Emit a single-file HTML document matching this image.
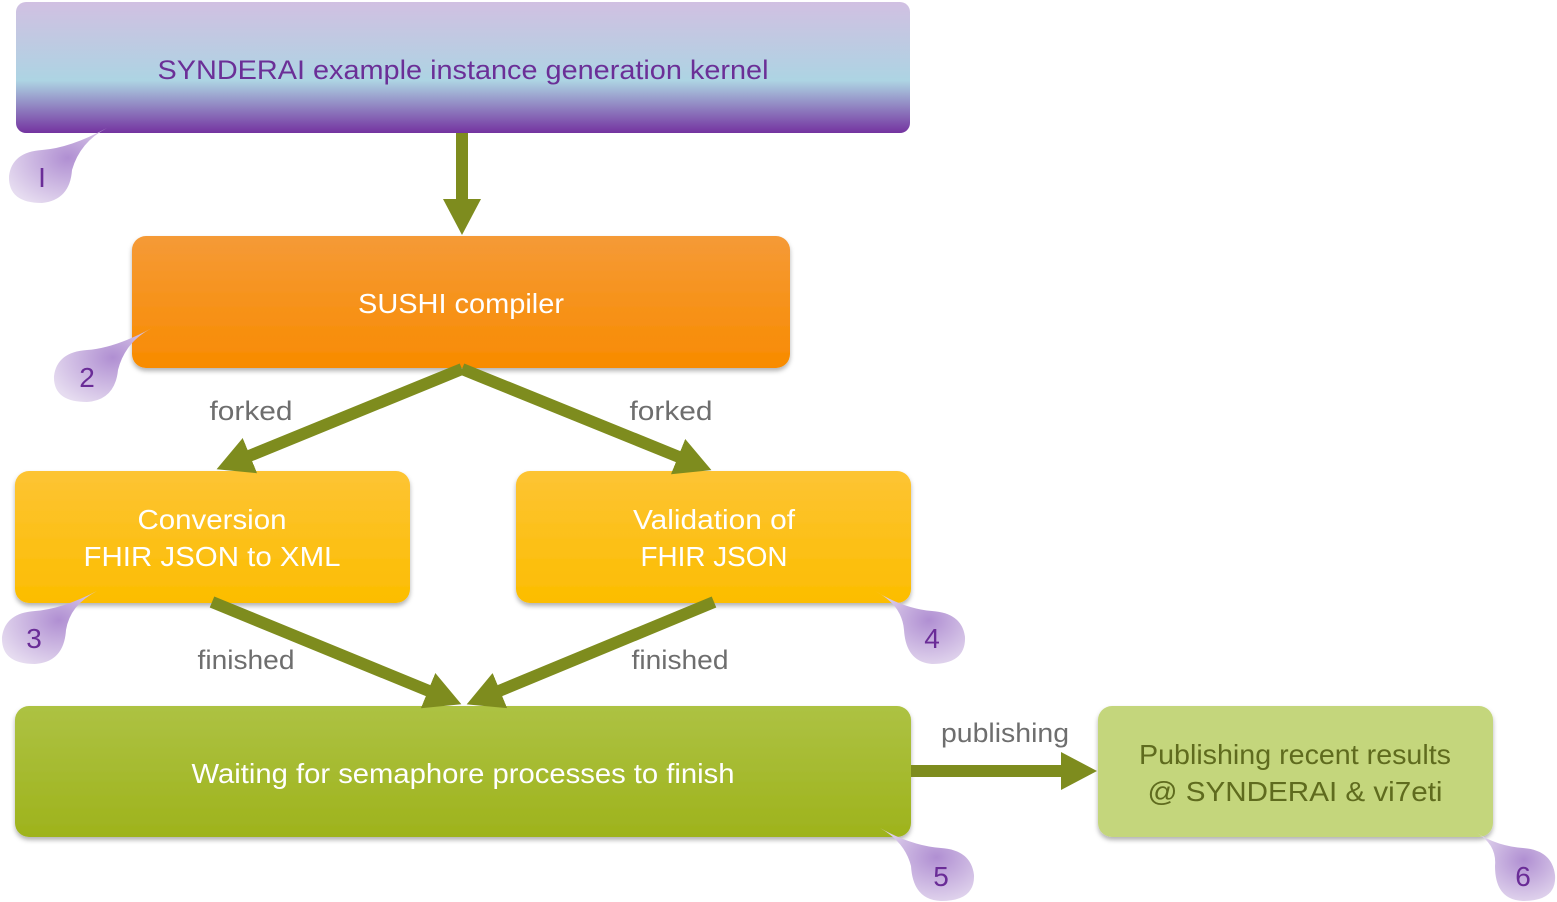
<!DOCTYPE html>
<html><head><meta charset="utf-8"><style>
html,body{margin:0;padding:0;background:#fff;}
svg{display:block;}
text{font-family:"Liberation Sans",sans-serif;}
</style></head><body>
<svg width="1557" height="902" viewBox="0 0 1557 902" xmlns="http://www.w3.org/2000/svg">
<defs>
<linearGradient id="g1" x1="0" y1="0" x2="0" y2="1">
<stop offset="0" stop-color="#d1c0e2"/><stop offset="0.6" stop-color="#add4e3"/><stop offset="1" stop-color="#7433a0"/>
</linearGradient>
<linearGradient id="g2" x1="0" y1="0" x2="0" y2="1"><stop offset="0" stop-color="#f59a37"/><stop offset="1" stop-color="#f88b00"/></linearGradient>
<linearGradient id="g3" x1="0" y1="0" x2="0" y2="1"><stop offset="0" stop-color="#fdc434"/><stop offset="1" stop-color="#fcbd00"/></linearGradient>
<linearGradient id="g5" x1="0" y1="0" x2="0" y2="1"><stop offset="0" stop-color="#adc243"/><stop offset="1" stop-color="#9eb31c"/></linearGradient>
<radialGradient id="gc" cx="0.6" cy="0.4" r="0.7"><stop offset="0" stop-color="#b08fd2"/><stop offset="1" stop-color="#e6dcf0"/></radialGradient>
<filter id="sh" x="-5%" y="-5%" width="110%" height="115%"><feDropShadow dx="0" dy="3" stdDeviation="2.5" flood-color="#000" flood-opacity="0.3"/></filter>
<marker id="ah" markerUnits="userSpaceOnUse" markerWidth="40" markerHeight="40" refX="1" refY="19" orient="auto"><path d="M0,0 L36,19 L0,38 Z" fill="#7e8c1e"/></marker>
</defs>

<rect x="16" y="2" width="894" height="131" rx="10" fill="url(#g1)"/>
<text x="463" y="79" font-size="27" fill="#6b2f97" text-anchor="middle" textLength="611" lengthAdjust="spacingAndGlyphs">SYNDERAI example instance generation kernel</text>

<rect x="132" y="236" width="658" height="132" rx="14" fill="url(#g2)" filter="url(#sh)"/>
<text x="461" y="313" font-size="28" fill="#fff" text-anchor="middle" textLength="206" lengthAdjust="spacingAndGlyphs">SUSHI compiler</text>

<rect x="15" y="471" width="395" height="132" rx="14" fill="url(#g3)" filter="url(#sh)"/>
<text x="212" y="529" font-size="28" fill="#fff" text-anchor="middle" textLength="149" lengthAdjust="spacingAndGlyphs">Conversion</text>
<text x="212" y="566" font-size="28" fill="#fff" text-anchor="middle" textLength="257" lengthAdjust="spacingAndGlyphs">FHIR JSON to XML</text>

<rect x="516" y="471" width="395" height="132" rx="14" fill="url(#g3)" filter="url(#sh)"/>
<text x="714" y="529" font-size="28" fill="#fff" text-anchor="middle" textLength="162" lengthAdjust="spacingAndGlyphs">Validation of</text>
<text x="714" y="566" font-size="28" fill="#fff" text-anchor="middle" textLength="147" lengthAdjust="spacingAndGlyphs">FHIR JSON</text>

<rect x="15" y="706" width="896" height="131" rx="14" fill="url(#g5)" filter="url(#sh)"/>
<text x="463" y="783" font-size="28" fill="#fff" text-anchor="middle" textLength="543" lengthAdjust="spacingAndGlyphs">Waiting for semaphore processes to finish</text>

<rect x="1098" y="706" width="395" height="131" rx="14" fill="#c4d67c" filter="url(#sh)"/>
<text x="1295" y="764" font-size="28" fill="#5f6b1e" text-anchor="middle" textLength="312" lengthAdjust="spacingAndGlyphs">Publishing recent results</text>
<text x="1295" y="801" font-size="28" fill="#5f6b1e" text-anchor="middle" textLength="295" lengthAdjust="spacingAndGlyphs">@ SYNDERAI &amp; vi7eti</text>

<g stroke="#7e8c1e" stroke-width="12" fill="none">
<line x1="462" y1="133" x2="462" y2="200" marker-end="url(#ah)"/>
<line x1="462" y1="369" x2="249" y2="456" marker-end="url(#ah)"/>
<line x1="462" y1="369" x2="679" y2="457" marker-end="url(#ah)"/>
<line x1="212" y1="602" x2="429" y2="691" marker-end="url(#ah)"/>
<line x1="714" y1="602" x2="499" y2="691" marker-end="url(#ah)"/>
<line x1="911" y1="771" x2="1062" y2="771" marker-end="url(#ah)"/>
</g>

<g font-size="27" fill="#6e6e6e" text-anchor="middle">
<text x="251" y="420" textLength="83" lengthAdjust="spacingAndGlyphs">forked</text>
<text x="671" y="420" textLength="83" lengthAdjust="spacingAndGlyphs">forked</text>
<text x="246" y="669" textLength="97" lengthAdjust="spacingAndGlyphs">finished</text>
<text x="680" y="669" textLength="97" lengthAdjust="spacingAndGlyphs">finished</text>
<text x="1005" y="742" textLength="128" lengthAdjust="spacingAndGlyphs">publishing</text>
</g>

<g fill="url(#gc)">
<path d="M107,128 Q80,142 72,170 Q70,200 42,203 Q8,203 9,176 Q12,152 42,150 Q70,148 107,128Z"/>
<path d="M152,328 Q125,342 118,370 Q115,400 87,402 Q53,402 54,376 Q57,352 87,350 Q115,348 152,328Z"/>
<path d="M97,591 Q70,605 66,630 Q64,662 35,664 Q1,664 2,637 Q5,613 35,611 Q62,609 97,591Z"/>
<path d="M875,591 Q902,605 904,630 Q906,662 932,664 Q966,664 965,637 Q962,613 932,611 Q905,609 875,591Z"/>
<path d="M880,828 Q905,842 911,866 Q913,900 941,901 Q975,901 974,875 Q971,850 941,848 Q912,846 880,828Z"/>
<path d="M1477,833 Q1497,845 1495,866 Q1495,900 1523,901 Q1557,901 1555,875 Q1552,850 1523,848 Q1497,846 1477,833Z"/>
</g>
<g font-size="28" fill="#6a2c97" text-anchor="middle">
<text x="42" y="187">I</text>
<text x="87" y="387">2</text>
<text x="34" y="648">3</text>
<text x="932" y="648">4</text>
<text x="941" y="886">5</text>
<text x="1523" y="886">6</text>
</g>
</svg>
</body></html>
